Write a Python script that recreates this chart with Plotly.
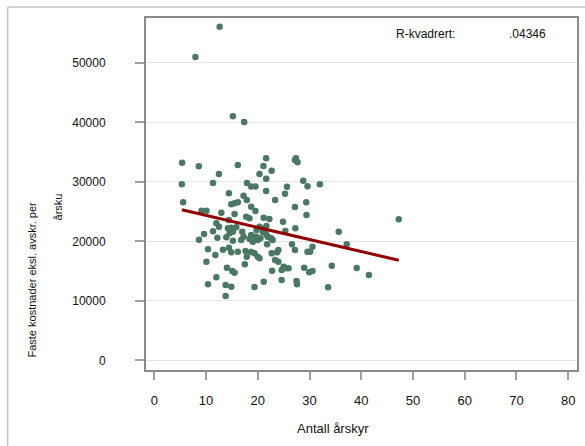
import plotly.graph_objects as go

# Antall årskyr (x) and faste kostnader (y)
arskyr = [12.63, 7.96, 15.19, 17.38, 5.38, 8.60, 12.50, 16.15, 5.33, 11.35,
          17.92, 18.73, 19.56, 5.58, 14.42, 17.25, 17.88, 14.88, 15.52, 16.15,
          18.73, 9.12, 10.08, 12.96, 15.52, 17.77, 18.40, 12.00, 14.42, 21.62,
          21.10, 22.69, 20.33, 21.62, 27.38, 27.69, 27.19, 21.62, 25.65, 25.27,
          28.79, 29.62, 32.00, 23.35, 27.19, 29.37, 29.42, 19.56, 21.15, 22.25,
          24.88, 8.65, 9.62, 11.35, 12.19, 12.50, 14.23, 14.88, 15.19, 14.56,
          17.00, 17.25, 16.81, 18.40, 18.73, 19.04, 15.19, 10.38, 11.81, 13.27,
          14.42, 14.88, 16.15, 17.63, 17.88, 10.08, 14.04, 15.08, 15.52, 17.50,
          12.00, 10.38, 13.79, 14.88, 13.79, 19.37, 19.75, 20.33, 21.29, 21.67,
          27.25, 25.33, 21.92, 22.58, 22.88, 20.00, 20.52, 21.81, 26.62, 27.19,
          30.58, 29.62, 30.13, 23.98, 23.73, 22.69, 19.37, 20.00, 20.33, 23.35,
          23.98, 25.00, 25.46, 25.96, 24.62, 28.98, 29.94, 30.58, 22.77, 34.31,
          21.15, 24.62, 27.50, 27.58, 33.60, 47.25, 35.65, 37.19, 39.12, 41.48,
          20.96, 18.73, 15.85, 13.92, 19.69, 21.62]
kostnader = [56070, 50980, 41010, 40050, 33210, 32610, 31310, 32820, 29580, 29800,
             29800, 29210, 29210, 26560, 28070, 27660, 26940, 26220, 26390, 26560,
             25820, 25140, 25140, 24810, 24590, 24140, 23870, 23030, 23580, 33950,
             32660, 31870, 31310, 30520, 33950, 33280, 33660, 28450, 29180, 28000,
             30190, 29240, 29580, 26940, 25770, 26560, 24420, 25090, 23970, 23750,
             23300, 20270, 21230, 21680, 20610, 22450, 22190, 22290, 21610, 21350,
             21610, 20770, 20220, 20390, 21060, 19930, 20100, 18660, 17700, 18590,
             18930, 18150, 18250, 18370, 17410, 16570, 15560, 15010, 14720, 16140,
             13950, 12770, 12660, 12370, 10810, 12320, 21900, 22450, 22190, 22570,
             22190, 21730, 20770, 20510, 20220, 20220, 20510, 19500, 19500, 18540,
             19090, 18250, 18250, 18540, 18150, 17980, 17980, 17410, 17140, 16860,
             16570, 15730, 15460, 15460, 15180, 15560, 14790, 15010, 15060, 15900,
             13210, 13500, 13330, 12770, 12270, 23700, 21610, 19500, 15510, 14340,
             21560, 18200, 22350, 20670, 20770, 21180]

# Fitted regression line (end points)
fit_x = [5.33, 47.25]
fit_y = [25290, 16820]

r2_label = "R-kvadrert:"
r2_value = ".04346"
x_title = "Antall årskyr"
y_title_1 = "Faste kostnader eksl. avskr. per"
y_title_2 = "årsku"
x_ticks = [0, 10, 20, 30, 40, 50, 60, 70, 80]
y_ticks = [0, 10000, 20000, 30000, 40000, 50000]

FONT = "Liberation Sans, Arial, sans-serif"
AX = "#8a8a8a"

fig = go.Figure()
fig.add_trace(go.Scatter(
    x=arskyr, y=kostnader, mode="markers",
    marker=dict(size=6.5, color="#4a7862", line=dict(width=0)),
    showlegend=False, hoverinfo="skip"))
fig.add_trace(go.Scatter(
    x=fit_x, y=fit_y, mode="lines",
    line=dict(color="#900000", width=3),
    showlegend=False, hoverinfo="skip"))

fig.update_layout(
    width=585, height=446,
    margin=dict(l=146, r=6, t=18, b=76),
    paper_bgcolor="white", plot_bgcolor="white",
    font=dict(family=FONT, size=12, color="#111111"),
    xaxis=dict(
        range=[-1.6, 81.7], tickvals=x_ticks, showgrid=False, zeroline=False,
        showline=True, linecolor=AX, linewidth=2, mirror=True,
        ticks="outside", ticklen=8, tickcolor="#a0a0a0", tickwidth=1.5,
        ticklabelstandoff=9, tickfont=dict(size=13)),
    yaxis=dict(
        range=[-1630, 57530], tickvals=y_ticks, tickformat="d", showgrid=True,
        gridcolor="#e4e4e4", gridwidth=1, zeroline=False,
        showline=True, linecolor=AX, linewidth=2, mirror=True,
        ticks="outside", ticklen=9, tickcolor="#a0a0a0", tickwidth=1.5,
        ticklabelstandoff=27, tickfont=dict(size=12)),
)

def note(text, x, y, size=12, angle=0):
    fig.add_annotation(text=text, x=x, y=y, xref="paper", yref="paper",
                       xanchor="center", yanchor="middle", showarrow=False,
                       textangle=angle, font=dict(family=FONT, size=size))

note(r2_label, 0.649, 0.955)
note(r2_value, 0.8845, 0.955)
note(x_title, 0.434, -0.165, size=13)
note(y_title_1, -0.2656, 0.2557, size=11, angle=-90)
note(y_title_2, -0.2032, 0.463, size=11, angle=-90)

# outer graph frame (top and left edges visible)
fig.add_shape(type="line", xref="paper", yref="paper",
              x0=-0.321, x1=1.02, y0=1.03125, y1=1.03125,
              line=dict(color="#c4c4c4", width=1.5))
fig.add_shape(type="line", xref="paper", yref="paper",
              x0=-0.321, x1=-0.321, y0=1.03125, y1=-0.22,
              line=dict(color="#c4c4c4", width=1.5))

fig.write_html("out.html")
